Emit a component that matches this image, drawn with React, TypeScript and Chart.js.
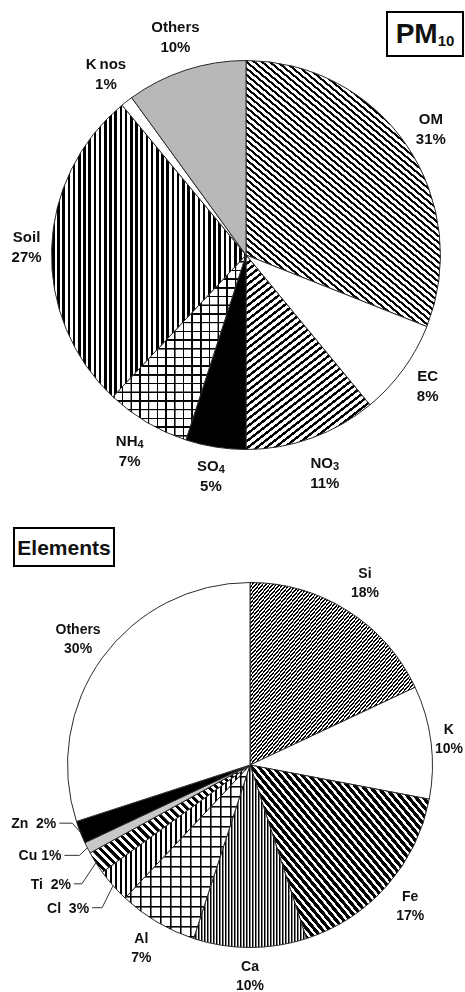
import React, { useEffect, useRef } from 'react';
import { Chart, registerables } from 'chart.js';

Chart.register(...registerables);

// PM10 mass closure (percent of mass)
const pmCategories = ['OM', 'EC', 'NO', 'SO', 'NH', 'Soil', 'K', 'Others'];
const pmSubscripts = ['', '', '3', '4', '4', '', 'nos', ''];
const pmShares = [31, 8, 11, 5, 7, 27, 1, 10];

// Elemental composition (percent of measured elements)
const elementCategories = ['Si', 'K', 'Fe', 'Ca', 'Al', 'Cl', 'Ti', 'Cu', 'Zn', 'Others'];
const elementShares = [18, 10, 17, 10, 7, 3, 2, 1, 2, 30];

type FillSpec =
  | { kind: 'solid'; color: string }
  | { kind: 'lines'; period: number; width: number; angle: number }
  | { kind: 'grid'; period: number; width: number };

const pmFills: FillSpec[] = [
  { kind: 'lines', period: 5, width: 2.1, angle: -50 }, // OM
  { kind: 'solid', color: '#ffffff' }, // EC
  { kind: 'lines', period: 5.6, width: 2.4, angle: 52 }, // NO3
  { kind: 'solid', color: '#000000' }, // SO4
  { kind: 'grid', period: 8.7, width: 1.5 }, // NH4
  { kind: 'lines', period: 5.2, width: 2.6, angle: 0 }, // Soil
  { kind: 'solid', color: '#ffffff' }, // K nos
  { kind: 'solid', color: '#b8b8b8' }, // Others
];

const elementFills: FillSpec[] = [
  { kind: 'lines', period: 2.6, width: 1.3, angle: 40 }, // Si
  { kind: 'solid', color: '#ffffff' }, // K
  { kind: 'lines', period: 5.6, width: 3.3, angle: -40 }, // Fe
  { kind: 'lines', period: 3, width: 1.5, angle: 0 }, // Ca
  { kind: 'grid', period: 10, width: 1.5 }, // Al
  { kind: 'lines', period: 5, width: 2.2, angle: 0 }, // Cl
  { kind: 'lines', period: 6, width: 3, angle: -45 }, // Ti
  { kind: 'solid', color: '#c8c8c8' }, // Cu
  { kind: 'solid', color: '#000000' }, // Zn
  { kind: 'solid', color: '#ffffff' }, // Others
];

const FONT = '"Liberation Sans", Arial, sans-serif';

function makeFill(ctx: CanvasRenderingContext2D, spec: FillSpec): string | CanvasPattern {
  if (spec.kind === 'solid') return spec.color;
  const size = 40;
  const tile = document.createElement('canvas');
  tile.width = size;
  tile.height = size;
  const t = tile.getContext('2d')!;
  t.fillStyle = '#ffffff';
  t.fillRect(0, 0, size, size);
  t.fillStyle = '#000000';
  const w = (size * spec.width) / spec.period;
  t.fillRect(0, 0, w, size);
  if (spec.kind === 'grid') t.fillRect(0, 0, size, w);
  const pattern = ctx.createPattern(tile, 'repeat')!;
  const s = spec.period / size;
  const angle = spec.kind === 'lines' ? spec.angle : 0;
  pattern.setTransform(new DOMMatrix().rotate(angle).scale(s, s));
  return pattern;
}

type Callout = { dx: number; dy: number; len: number; text: string };

type LabelOptions = {
  fontSize: number;
  lineGap: number;
  offsets: number[];
  subscripts?: string[];
  callouts?: Record<number, Callout>;
};

function drawRich(
  ctx: CanvasRenderingContext2D,
  main: string,
  sub: string,
  cx: number,
  cy: number,
  size: number
) {
  ctx.textBaseline = 'middle';
  ctx.textAlign = 'left';
  ctx.font = `bold ${size}px ${FONT}`;
  const w1 = ctx.measureText(main).width;
  if (!sub) {
    ctx.fillText(main, cx - w1 / 2, cy);
    return;
  }
  const wordSub = sub.length > 1;
  const subSize = wordSub ? size : Math.round(size * 0.72);
  const gap = wordSub ? 3 : 0;
  const dy = wordSub ? 0 : 3;
  ctx.font = `bold ${subSize}px ${FONT}`;
  const w2 = ctx.measureText(sub).width;
  const x0 = cx - (w1 + gap + w2) / 2;
  ctx.font = `bold ${size}px ${FONT}`;
  ctx.fillText(main, x0, cy);
  ctx.font = `bold ${subSize}px ${FONT}`;
  ctx.fillText(sub, x0 + w1 + gap, cy + dy);
}

const sliceLabels = {
  id: 'sliceLabels',
  afterDatasetsDraw(chart: any, _args: any, opts: LabelOptions) {
    const ctx: CanvasRenderingContext2D = chart.ctx;
    const meta = chart.getDatasetMeta(0);
    const names: string[] = chart.data.labels;
    const values: number[] = chart.data.datasets[0].data;
    ctx.save();
    ctx.fillStyle = '#111111';
    meta.data.forEach((arc: any, i: number) => {
      const { x, y, startAngle, endAngle, outerRadius } = arc.getProps(
        ['x', 'y', 'startAngle', 'endAngle', 'outerRadius'],
        true
      );
      const mid = (startAngle + endAngle) / 2;
      const callout = opts.callouts && opts.callouts[i];
      if (callout) {
        const px = x + Math.cos(mid) * outerRadius;
        const py = y + Math.sin(mid) * outerRadius;
        const kx = px + callout.dx;
        const ky = py + callout.dy;
        const ex = kx - callout.len;
        ctx.strokeStyle = '#333333';
        ctx.lineWidth = 1;
        ctx.beginPath();
        ctx.moveTo(px, py);
        ctx.lineTo(kx, ky);
        ctx.lineTo(ex, ky);
        ctx.stroke();
        ctx.font = `bold ${opts.fontSize}px ${FONT}`;
        ctx.textAlign = 'right';
        ctx.textBaseline = 'middle';
        ctx.fillText(callout.text, ex - 3, ky + 1);
        return;
      }
      const r = outerRadius + opts.offsets[i];
      const cx = x + Math.cos(mid) * r;
      const cy = y + Math.sin(mid) * r;
      const sub = opts.subscripts ? opts.subscripts[i] : '';
      drawRich(ctx, names[i], sub, cx, cy - opts.lineGap / 2, opts.fontSize);
      ctx.font = `bold ${opts.fontSize}px ${FONT}`;
      ctx.textAlign = 'center';
      ctx.textBaseline = 'middle';
      ctx.fillText(`${values[i]}%`, cx, cy + opts.lineGap / 2);
    });
    ctx.restore();
  },
};

function PieCanvas(props: {
  labels: string[];
  values: number[];
  fills: FillSpec[];
  padding: { left: number; right: number; top: number; bottom: number };
  labelOptions: LabelOptions;
  top: number;
}) {
  const ref = useRef<HTMLCanvasElement | null>(null);
  useEffect(() => {
    const canvas = ref.current!;
    const ctx = canvas.getContext('2d')!;
    const chart = new Chart(canvas, {
      type: 'pie',
      data: {
        labels: props.labels,
        datasets: [
          {
            data: props.values,
            backgroundColor: props.fills.map((f) => makeFill(ctx, f)) as any,
            borderColor: '#2a2a2a',
            borderWidth: 1,
          },
        ],
      },
      options: {
        responsive: false,
        animation: false,
        layout: { padding: props.padding },
        plugins: {
          legend: { display: false },
          tooltip: { enabled: false },
          sliceLabels: props.labelOptions,
        } as any,
      },
      plugins: [sliceLabels as any],
    });
    return () => chart.destroy();
  }, []);
  return (
    <canvas
      ref={ref}
      width={465}
      height={496}
      style={{ position: 'absolute', left: 0, top: props.top, width: 465, height: 496 }}
    />
  );
}

const boxStyle: React.CSSProperties = {
  position: 'absolute',
  boxSizing: 'border-box',
  border: '2px solid #000',
  background: '#fff',
  display: 'flex',
  alignItems: 'center',
  justifyContent: 'center',
  fontFamily: FONT,
  fontWeight: 'bold',
  color: '#111',
  lineHeight: 1,
};

export default function App() {
  return (
    <div
      style={{
        position: 'absolute',
        left: 0,
        top: 0,
        width: 465,
        height: 992,
        background: '#fff',
        overflow: 'hidden',
      }}
    >
      <PieCanvas
        labels={pmCategories}
        values={pmShares}
        fills={pmFills}
        padding={{ left: 51, right: 24, top: 60, bottom: 46 }}
        labelOptions={{
          fontSize: 15,
          lineGap: 20,
          offsets: [29, 30, 38, 30, 34, 25, 34, 34],
          subscripts: pmSubscripts,
        }}
        top={0}
      />
      <PieCanvas
        labels={elementCategories}
        values={elementShares}
        fills={elementFills}
        padding={{ left: 67, right: 32, top: 86, bottom: 44 }}
        labelOptions={{
          fontSize: 14,
          lineGap: 19,
          offsets: [32, 18, 31, 29, 31, 0, 0, 0, 0, 30],
          callouts: {
            5: { dx: -11, dy: 22, len: 10, text: 'Cl  3%' },
            6: { dx: -14, dy: 21, len: 8, text: 'Ti  2%' },
            7: { dx: -8, dy: 7.5, len: 15, text: 'Cu 1%' },
            8: { dx: -8, dy: -9, len: 13, text: 'Zn  2%' },
          },
        }}
        top={496}
      />
      <div style={{ ...boxStyle, left: 386, top: 11, width: 78, height: 46 }}>
        <span style={{ fontSize: 28 }}>PM</span>
        <span style={{ fontSize: 15, position: 'relative', top: 6 }}>10</span>
      </div>
      <div style={{ ...boxStyle, left: 13, top: 527, width: 102, height: 40, fontSize: 21 }}>
        Elements
      </div>
    </div>
  );
}
